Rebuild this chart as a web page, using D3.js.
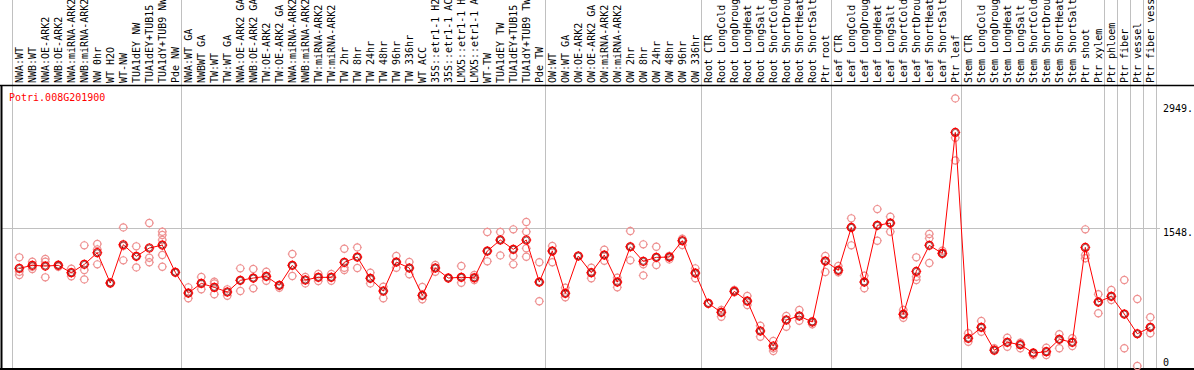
<!DOCTYPE html>
<html>
<head>
<meta charset="utf-8">
<script src="https://cdn.jsdelivr.net/npm/d3@7.9.0/dist/d3.min.js"></script>
<style>
  body { margin: 0; background: #fff; }
  svg { display: block; font-family: "DejaVu Sans Mono", "Liberation Mono", monospace; }
</style>
</head>
<body>
<svg id="chart" width="1194" height="370"></svg>
<script>
const geneName = "Potri.008G201900";

const labels = [
  "NWA:WT", "NWB:WT", "NWA:OE-ARK2", "NWB:OE-ARK2", "NWA:miRNA-ARK2", "NWB:miRNA-ARK2",
  "NW 0hr", "WT H2O", "WT-NW", "TUA1dEY NW", "TUA1dEY+TUB15 NW", "TUA1dY+TUB9 NW", "Pde NW",
  "NWA:WT GA", "NWBWT GA", "TW:WT", "TW:WT GA", "NWA:OE-ARK2 GA", "NWB:OE-ARK2 GA",
  "TW:OE-ARK2", "TW:OE-ARK2 GA", "NWA:miRNA-ARK2 GA", "NWB:miRNA-ARK2 GA", "TW:miRNA-ARK2",
  "TW:miRNA-ARK2 GA", "TW 2hr", "TW 8hr", "TW 24hr", "TW 48hr", "TW 96hr", "TW 336hr", "WT ACC",
  "35S::etr1-1 H2O", "35S::etr1-1 ACC", "LMX5::etr1-1 H2O", "LMX5::etr1-1 ACC", "WT-TW",
  "TUA1dEY TW", "TUA1dEY+TUB15 TW", "TUA1dY+TUB9 TW", "Pde TW",
  "OW:WT", "OW:WT GA", "OW:OE-ARK2", "OW:OE-ARK2 GA", "OW:miRNA-ARK2", "OW:miRNA-ARK2 GA",
  "OW 2hr", "OW 8hr", "OW 24hr", "OW 48hr", "OW 96hr", "OW 336hr",
  "Root CTR", "Root LongCold", "Root LongDrought", "Root LongHeat", "Root LongSalt",
  "Root ShortCold", "Root ShortDrought", "Root ShortHeat", "Root ShortSalt", "Ptr root",
  "Leaf CTR", "Leaf LongCold", "Leaf LongDrought", "Leaf LongHeat", "Leaf LongSalt",
  "Leaf ShortCold", "Leaf ShortDrought", "Leaf ShortHeat", "Leaf ShortSalt", "Ptr leaf",
  "Stem CTR", "Stem LongCold", "Stem LongDrought", "Stem LongHeat", "Stem LongSalt",
  "Stem ShortCold", "Stem ShortDrought", "Stem ShortHeat", "Stem ShortSalt", "Ptr shoot",
  "Ptr xylem", "Ptr phloem", "Ptr fiber", "Ptr vessel", "Ptr fiber vessel"
];

const means = [
  1099, 1133, 1125, 1133, 1050, 1144, 1275, 934, 1365, 1234, 1328, 1361, 1054,
  821, 930, 885, 833, 964, 990, 1009, 908, 1133, 968, 998, 998, 1167, 1226, 987, 844, 1170,
  1103, 795, 1103, 990, 998, 993, 1294, 1418, 1313, 1418, 945,
  1294, 818, 1238, 1050, 1249, 945, 1342, 1178, 1223, 1226, 1410, 1046,
  705, 604, 840, 731, 394, 225, 518, 563, 495, 1181,
  1077, 1560, 945, 1583, 1609, 582, 1065, 1358, 1268, 2629,
  312, 435, 177, 267, 240, 146, 161, 300, 267, 1335,
  720, 784, 585, 363, 435
];

const replicates = [
  [1223, 1061, 1024], [1173, 1117, 1091], [1204, 1173, 998], [1140, 1117, 1133],
  [1095, 1050, 1010], [1358, 1080, 975], [1373, 1313, 1144], [940, 928, 934],
  [1560, 1350, 1189], [1347, 1234, 1110], [1609, 1218, 1167], [1511, 1474, 1418, 1249, 1117],
  [1054, 1060],
  [885, 821, 762], [1001, 930, 863], [948, 930, 807], [863, 833, 791], [1099, 964, 844],
  [1091, 990, 874], [1061, 1009, 960], [881, 911, 908], [1260, 1133, 1013], [1001, 968, 930],
  [1035, 998, 956], [1035, 998, 960], [1320, 1106, 1080], [1335, 1226, 1103], [1050, 987, 930],
  [892, 844, 762], [1238, 1170, 1106], [1170, 1103, 1032], [889, 795, 750], [1136, 1103, 1061],
  [990, 995], [1125, 998, 937], [1024, 993, 968], [1508, 1294, 1178], [1508, 1418, 1245],
  [1538, 1313, 1238, 1144], [1620, 1511, 1324, 1230], [1167, 945, 728],
  [1350, 1294, 1167], [881, 818, 773], [1238, 1240], [1106, 1050, 987], [1308, 1249, 1185],
  [993, 945, 885], [1519, 1342, 1189], [1369, 1144, 1020], [1342, 1223, 1136], [1200, 1226, 1240],
  [1432, 1410, 1361], [1099, 1046, 987],
  [705, 700], [630, 604, 555], [855, 840, 830], [788, 731, 686], [453, 394, 330],
  [281, 199, 169], [563, 518, 442], [630, 563, 510], [469, 495, 505], [1238, 1181, 1058],
  [1125, 1077, 1054], [1662, 1560, 1358], [1016, 945, 874], [1766, 1583, 1410], [1680, 1609, 1511],
  [630, 582, 543], [1223, 1005, 968], [1485, 1437, 1159], [1297, 1268, 1260], [3012, 2568, 2314],
  [368, 312, 273], [506, 435, 386], [199, 185, 177], [318, 267, 217], [262, 240, 199],
  [124, 150, 146], [206, 161, 124], [357, 300, 199], [312, 267, 225], [1538, 1249, 1212],
  [807, 720, 593], [855, 784, 743], [968, 585, 199], [754, 363, 0], [548, 435, 368]
];

// indices where a separator line is drawn (before that sample)
const groupStarts = [0, 13, 41, 53, 63, 73, 84, 85, 86, 87, 88];
const tickValues = [2949, 1548, 0];
const tickLabels = ["2949.", "1548.", "0"];

const W = 1194;
const headerBottom = 85, plotBottom = 369;

const svg = d3.select("#chart");

const x = d3.scaleLinear().domain([0, labels.length - 1]).range([19.3, 1150.3]);
const y = d3.scaleLinear().domain([0, 2949]).range([366, 104]);

// separator lines
svg.append("g")
  .selectAll("line")
  .data(groupStarts)
  .join("line")
  .attr("x1", (d) => Math.round(x(d - 0.59)) + 0.5)
  .attr("x2", (d) => Math.round(x(d - 0.59)) + 0.5)
  .attr("y1", 0)
  .attr("y2", plotBottom)
  .attr("stroke", "#c0c0c0")
  .attr("stroke-width", 1);

// middle horizontal gridline
svg.append("line")
  .attr("x1", 1)
  .attr("x2", 1160)
  .attr("y1", Math.round(y(tickValues[1])) + 0.5)
  .attr("y2", Math.round(y(tickValues[1])) + 0.5)
  .attr("stroke", "#c0c0c0");

// frame
svg.append("line").attr("x1", 0).attr("x2", W).attr("y1", headerBottom + 0.5).attr("y2", headerBottom + 0.5)
  .attr("stroke", "#000").attr("stroke-width", 1.5);
svg.append("line").attr("x1", 0).attr("x2", W).attr("y1", plotBottom).attr("y2", plotBottom)
  .attr("stroke", "#000").attr("stroke-width", 2);
svg.append("line").attr("x1", 1.5).attr("x2", 1.5).attr("y1", headerBottom).attr("y2", plotBottom)
  .attr("stroke", "#000").attr("stroke-width", 2);

// header labels
svg.append("g")
  .selectAll("text")
  .data(labels)
  .join("text")
  .attr("transform", (d, i) => `translate(${x(i) + 4},83) rotate(-90)`)
  .attr("font-size", 10)
  .attr("fill", "#000")
  .text((d) => d);

// y tick labels on the right
svg.append("g")
  .selectAll("text")
  .data(tickValues)
  .join("text")
  .attr("x", 1163)
  .attr("y", (d) => Math.min(y(d) + 8, 366))
  .attr("font-size", 10)
  .attr("fill", "#000")
  .text((d, i) => tickLabels[i]);

// gene name
svg.append("text")
  .attr("x", 9)
  .attr("y", 101)
  .attr("font-size", 10)
  .attr("fill", "#ff0000")
  .text(geneName);

function marker(g, color, r) {
  g.append("circle").attr("r", r).attr("fill", "none").attr("stroke", color).attr("stroke-width", 1.2);
  g.append("path")
    .attr("d", `M0,${-r - 1}V${-r + 0.4}M0,${r - 0.4}V${r + 1}M${-r - 1},0H${-r + 0.4}M${r - 0.4},0H${r + 1}`)
    .attr("stroke", color)
    .attr("stroke-width", 0.9);
}

// replicate points
const repData = replicates.flatMap((vals, i) => vals.map((v) => ({ i, v })));
svg.append("g")
  .selectAll("g")
  .data(repData)
  .join("g")
  .attr("transform", (d) => `translate(${x(d.i)},${Math.min(y(d.v), plotBottom)})`)
  .each(function () {
    marker(d3.select(this), "#ee9090", 3.6);
  });

// mean line
svg.append("path")
  .datum(means)
  .attr("fill", "none")
  .attr("stroke", "#ff0000")
  .attr("stroke-width", 1)
  .attr("d", d3.line().x((d, i) => x(i)).y((d) => y(d)));

// mean markers
const meanG = svg.append("g")
  .selectAll("g")
  .data(means)
  .join("g")
  .attr("transform", (d, i) => `translate(${x(i)},${y(d)})`);
meanG.each(function () {
  marker(d3.select(this), "#ff0000", 4);
});
meanG.append("circle").attr("r", 3).attr("fill", "none").attr("stroke", "#600000").attr("stroke-width", 0.7);
</script>
</body>
</html>
